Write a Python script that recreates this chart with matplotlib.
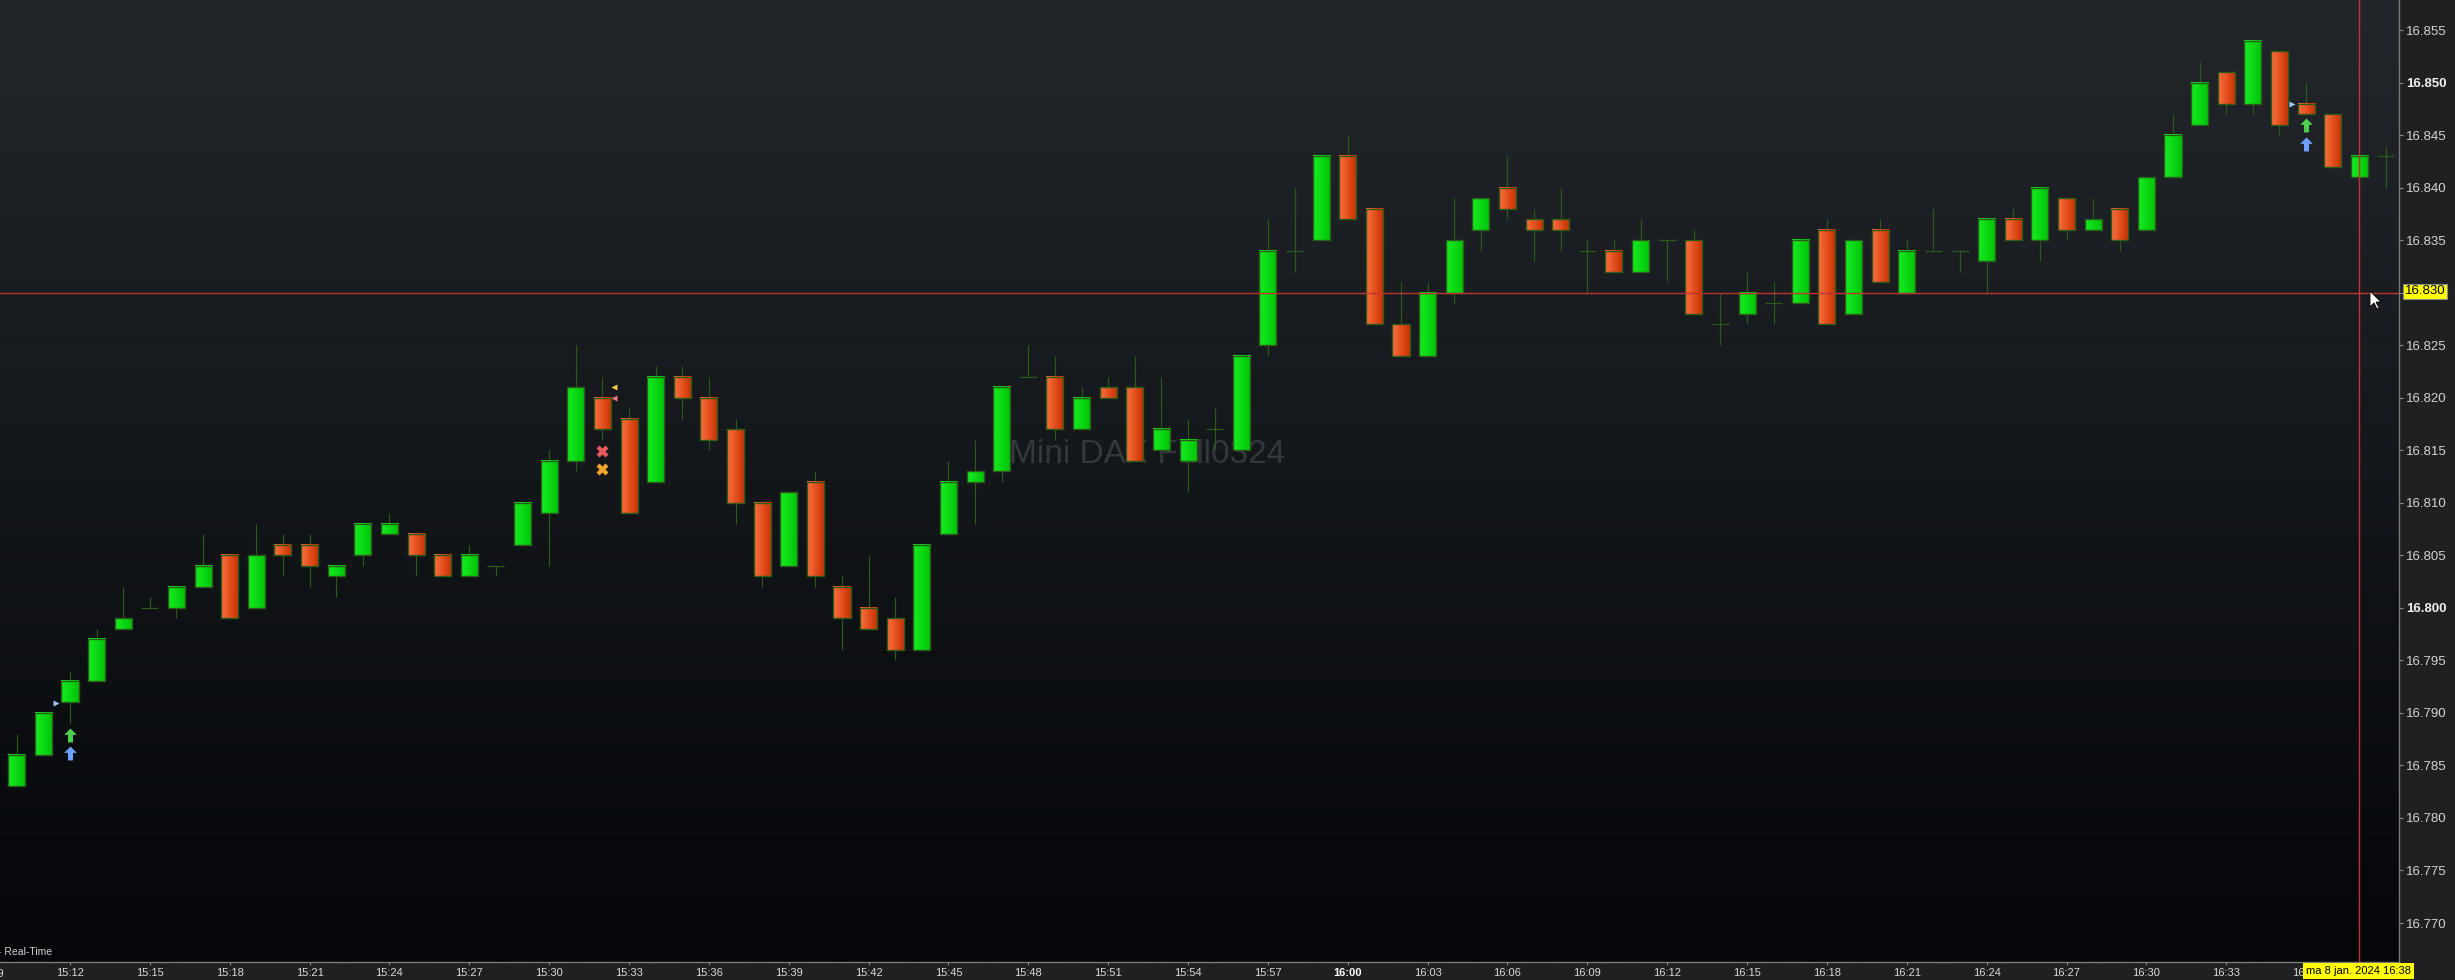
import numpy as np
import pandas as pd
import matplotlib
matplotlib.use("Agg")
import matplotlib.pyplot as plt
from matplotlib.patches import Rectangle, Polygon
from matplotlib.path import Path

# ---------------- data ----------------
times = pd.date_range("2024-01-08 15:10", periods=90, freq="min")

opens = [16783, 16786, 16791, 16793, 16798, 16800, 16800, 16802, 16805, 16800,
         16806, 16806, 16803, 16805, 16807, 16807, 16805, 16803, 16804, 16806,
         16809, 16814, 16820, 16818, 16812, 16822, 16820, 16817, 16810, 16804,
         16812, 16802, 16800, 16799, 16796, 16807, 16812, 16813, 16822, 16822,
         16817, 16821, 16821, 16815, 16814, 16817, 16815, 16825, 16834, 16835,
         16843, 16838, 16827, 16824, 16830, 16836, 16840, 16837, 16837, 16834,
         16834, 16832, 16835, 16835, 16827, 16828, 16829, 16829, 16836, 16828,
         16836, 16830, 16834, 16834, 16833, 16837, 16835, 16839, 16836, 16838,
         16836, 16841, 16846, 16851, 16848, 16853, 16848, 16847, 16841, 16843]
highs = [16788, 16790, 16794, 16798, 16802, 16801, 16802, 16807, 16805, 16808,
         16807, 16807, 16804, 16808, 16809, 16807, 16805, 16806, 16804, 16810,
         16815, 16825, 16822, 16819, 16823, 16823, 16822, 16818, 16810, 16811,
         16813, 16803, 16805, 16801, 16806, 16814, 16816, 16821, 16825, 16824,
         16821, 16822, 16824, 16822, 16818, 16819, 16824, 16837, 16840, 16843,
         16845, 16838, 16831, 16831, 16839, 16839, 16843, 16838, 16840, 16835,
         16835, 16837, 16835, 16836, 16830, 16832, 16831, 16835, 16837, 16835,
         16837, 16835, 16838, 16834, 16837, 16838, 16840, 16839, 16839, 16838,
         16841, 16847, 16852, 16851, 16854, 16853, 16850, 16847, 16843, 16844]
lows = [16783, 16786, 16789, 16793, 16798, 16800, 16799, 16802, 16799, 16800,
        16803, 16802, 16801, 16804, 16807, 16803, 16803, 16803, 16803, 16806,
        16804, 16813, 16816, 16809, 16812, 16818, 16815, 16808, 16802, 16804,
        16802, 16796, 16798, 16795, 16796, 16807, 16808, 16812, 16822, 16816,
        16817, 16820, 16814, 16815, 16811, 16815, 16815, 16824, 16832, 16835,
        16837, 16827, 16824, 16824, 16829, 16834, 16837, 16833, 16834, 16830,
        16832, 16832, 16831, 16828, 16825, 16827, 16827, 16829, 16827, 16828,
        16831, 16830, 16834, 16832, 16830, 16835, 16833, 16835, 16836, 16834,
        16836, 16841, 16846, 16847, 16847, 16845, 16847, 16842, 16841, 16840]
closes = [16786, 16790, 16793, 16797, 16799, 16800, 16802, 16804, 16799, 16805,
          16805, 16804, 16804, 16808, 16808, 16805, 16803, 16805, 16804, 16810,
          16814, 16821, 16817, 16809, 16822, 16820, 16816, 16810, 16803, 16811,
          16803, 16799, 16798, 16796, 16806, 16812, 16813, 16821, 16822, 16817,
          16820, 16820, 16814, 16817, 16816, 16817, 16824, 16834, 16834, 16843,
          16837, 16827, 16824, 16830, 16835, 16839, 16838, 16836, 16836, 16834,
          16832, 16835, 16835, 16828, 16827, 16830, 16829, 16835, 16827, 16835,
          16831, 16834, 16834, 16834, 16837, 16835, 16840, 16836, 16837, 16835,
          16841, 16845, 16850, 16848, 16854, 16846, 16847, 16842, 16843, 16843]

# signal markers (time, price)
sig_right_tri = [("15:12", 16790.9), ("16:36", 16848.0)]
sig_green_up = [("15:12", 16787.9), ("16:36", 16846.0)]
sig_blue_up = [("15:12", 16786.2), ("16:36", 16844.2)]
sig_yellow_left = [("15:32", 16821.0)]
sig_pink_left = [("15:32", 16820.0)]
sig_red_x = [("15:32", 16814.9)]
sig_orange_x = [("15:32", 16813.2)]

price_ticks = [16770, 16775, 16780, 16785, 16790, 16795, 16800, 16805, 16810,
               16815, 16820, 16825, 16830, 16835, 16840, 16845, 16850, 16855]
bold_prices = [16800, 16850]
edge_time_label = "15:09"
time_ticks = ["15:12", "15:15", "15:18", "15:21", "15:24", "15:27", "15:30",
              "15:33", "15:36", "15:39", "15:42", "15:45", "15:48", "15:51", "15:54",
              "15:57", "16:00", "16:03", "16:06", "16:09", "16:12", "16:15", "16:18",
              "16:21", "16:24", "16:27", "16:30", "16:33", "16:36"]
bold_times = ["16:00"]
cross_price = 16830
cross_time = "16:38"
watermark = "Mini DAX Full0324"
date_label = "ma 8 jan. 2024 16:38"


def tmin(label):
    h, m = label.split(":")
    return (int(h) - 15) * 60 + int(m)


xs = np.array([(t.hour - 15) * 60 + t.minute for t in times], dtype=float)

# ---------------- figure ----------------
W, H = 2455, 980
fig = plt.figure(figsize=(W / 100, H / 100), dpi=100, facecolor="#1f2021")
ax_l, ax_r, ax_b = 0, 2399, 962
ax = fig.add_axes([ax_l / W, 1 - ax_b / H, (ax_r - ax_l) / W, ax_b / H])
ax.set_facecolor("#101316")
plt.rcParams["font.family"] = ["Liberation Sans", "DejaVu Sans"]

xlim = (9.37, 99.49)
ylim = (16766.29, 16857.86)

# background gradient
top = np.array([35, 39, 43]) / 255
bot = np.array([4, 6, 9]) / 255
tt = np.linspace(0, 1, 256)[:, None]
grad = top[None, None, :] * (1 - tt[:, :, None]) + bot[None, None, :] * tt[:, :, None]
ax.imshow(grad, extent=(0, 1, 0, 1), transform=ax.transAxes, aspect="auto",
          interpolation="bilinear", zorder=0)

# watermark
ax.text(0.478, 0.528, watermark, transform=ax.transAxes, ha="center", va="center",
        fontsize=24, color="#34373c", zorder=1, family="Liberation Sans")

# candles
edge = "#2c5a1a"
half = 0.32
ncol = 24
u = np.linspace(0, 1, ncol)[None, :, None]
g_l, g_r = np.array([22, 236, 34]) / 255, np.array([0, 196, 8]) / 255
r_l, r_r = np.array([252, 112, 62]) / 255, np.array([200, 48, 0]) / 255
green_img = g_l * (1 - u) + g_r * u
red_img = r_l * (1 - u) + r_r * u

ax.vlines(xs, lows, highs, color=edge, lw=0.85, zorder=2)
for x, o, h, l, c in zip(xs, opens, highs, lows, closes):
    if c == o:
        ax.hlines(o, x - half, x + half, color=edge, lw=0.9, zorder=3)
        continue
    lo, hi = min(o, c), max(o, c)
    img = green_img if c > o else red_img
    ax.imshow(img, extent=(x - half, x + half, lo, hi), aspect="auto",
              interpolation="bilinear", zorder=3)
    ax.add_patch(Rectangle((x - half, lo), 2 * half, hi - lo, fill=False,
                           ec=edge, lw=1.0, zorder=4))

# markers
arrow_path = Path([(-0.5, 0.05), (0, 0.55), (0.5, 0.05), (0.2, 0.05), (0.2, -0.55),
                   (-0.2, -0.55), (-0.2, 0.05), (-0.5, 0.05)], closed=True)


def put(sig, dx, **kw):
    ax.plot([tmin(t) + dx for t, _ in sig], [p for _, p in sig], ls="none", zorder=6, **kw)


put(sig_right_tri, -0.53, marker=">", ms=4.5, color="#9cc4f4", mec="none")
put(sig_green_up, 0, marker=arrow_path, ms=10, color="#4fcf4f", mec="none")
put(sig_blue_up, 0, marker=arrow_path, ms=10, color="#6ea0ff", mec="none")
put(sig_yellow_left, 0.43, marker="<", ms=5, color="#f4c84a", mec="none")
put(sig_pink_left, 0.43, marker="<", ms=5, color="#f07884", mec="none")
put(sig_red_x, 0, marker="X", ms=8, color="#e85a5a", mec="none")
put(sig_orange_x, 0, marker="X", ms=8, color="#f4a428", mec="none")

# crosshair
ax.axhline(cross_price, color="#c03434", lw=1.0, zorder=7, snap=True)
ax.axvline(tmin(cross_time), color="#c03434", lw=1.0, zorder=7, snap=True)

# axes styling
for s in ["top", "left"]:
    ax.spines[s].set_visible(False)
for s in ["right", "bottom"]:
    ax.spines[s].set_color("#7a7a7a")
    ax.spines[s].set_linewidth(1)

ax.yaxis.tick_right()
ax.set_yticks(price_ticks, [f"{p/1000:.3f}" for p in price_ticks])
ax.tick_params(axis="y", direction="out", length=3, width=0.8, color="#8a8a8a",
               pad=2, labelsize=9.5, labelcolor="#d4d4d4")
for lab, p in zip(ax.get_yticklabels(), price_ticks):
    lab.set_family("Liberation Sans")
    if p in bold_prices:
        lab.set_fontweight("bold")
        lab.set_color("#f0f0f0")

ax.set_xticks([tmin(t) for t in time_ticks], time_ticks)
ax.tick_params(axis="x", direction="out", length=2.5, width=0.8, color="#8a8a8a",
               pad=1.5, labelsize=8, labelcolor="#d8d8d8")
for lab, t in zip(ax.get_xticklabels(), time_ticks):
    lab.set_family("Liberation Sans")
    if t in bold_times:
        lab.set_fontweight("bold")
        lab.set_color("#ffffff")

# limits last (set_ticks may expand the view)
ax.set_xlim(*xlim)
ax.set_ylim(*ylim)

# partially visible label at the left edge
ax.text(tmin(edge_time_label), -0.0005, edge_time_label, transform=ax.get_xaxis_transform(),
        ha="center", va="top", fontsize=8, color="#d8d8d8", family="Liberation Sans",
        clip_on=False)
ax.text(0, 0, "", transform=ax.transAxes)
ax.texts[-2].set_y(-0.0075)

# real-time text
ax.text(-0.001, 0.005, "- Real-Time", transform=ax.transAxes, ha="left", va="bottom",
        fontsize=7.5, color="#d0d0d0", zorder=8)

# yellow labels
fig.text(2425 / W, 1 - 291.5 / H, f"{cross_price/1000:.3f}", ha="center", va="center",
         fontsize=9.5, color="black", family="Liberation Sans",
         bbox=dict(boxstyle="square,pad=0.12", fc="#ffff00", ec="#8a8a8a", lw=0.8), zorder=10)
fig.text(2358.5 / W, 1 - 971 / H, date_label, ha="center", va="center",
         fontsize=8, color="black", family="Liberation Sans",
         bbox=dict(boxstyle="square,pad=0.28", fc="#ffff00", ec="none"), zorder=10)

# mouse cursor
cur = np.array([(0, 0), (0, 16), (4, 12), (7, 18), (9, 17), (6, 11), (11, 11)], dtype=float)
cx, cy = 2370, 291
pts = [((cx + dx) / W, 1 - (cy + dy) / H) for dx, dy in cur]
fig.add_artist(Polygon(pts, closed=True, fc="white", ec="black", lw=0.6,
                       transform=fig.transFigure, zorder=12))

fig.savefig("out.png", dpi=100, facecolor=fig.get_facecolor())
